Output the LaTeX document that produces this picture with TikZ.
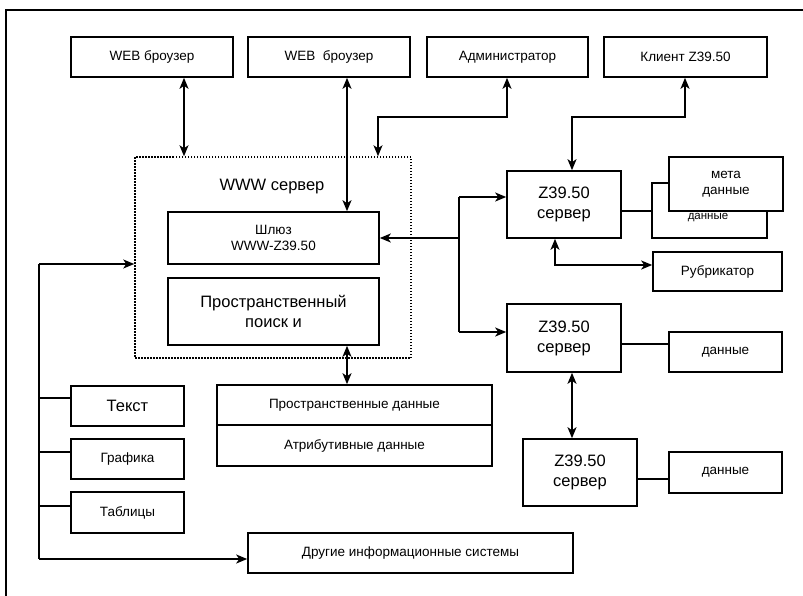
\documentclass[tikz,border=0pt]{standalone}
\usepackage{fontspec}
\setmainfont{Liberation Sans}
\usetikzlibrary{arrows.meta}
\begin{document}
\begin{tikzpicture}[x=1pt,y=-1pt,
  box/.style={draw,line width=1.6pt,inner sep=0pt,align=center,font=\fontsize{13.5}{16}\selectfont},
  bigbox/.style={box,font=\fontsize{16.5}{20}\selectfont},
  conn/.style={line width=1.6pt},
  tip/.tip={Stealth[length=11pt,width=9pt,inset=3pt]},
  ar/.style={conn,-tip},
  dbl/.style={conn,tip-tip}]
\useasboundingbox (0,0) rectangle (803,595);
% outer frame
\draw[line width=1.6pt] (6,620) -- (6,10) -- (830,10);
% top row
\node[box,minimum width=162,minimum height=40] (web1) at (152,57) {WEB броузер};
\node[box,minimum width=162,minimum height=40] (web2) at (329,57) {WEB\ \ броузер};
\node[box,minimum width=161,minimum height=40] (admin) at (507.5,57) {Администратор};
\node[box,minimum width=163,minimum height=40] (client) at (685.5,57) {Клиент Z39.50};
% WWW server
\node[draw,line width=1.5pt,dash pattern=on 1.5pt off 1.5pt,minimum width=276,minimum height=201,inner sep=0pt] (www) at (273,257.5) {};
\node[font=\fontsize{16.5}{20}\selectfont] (wwwlbl) at (272,187) {WWW сервер};
\node[box,minimum width=211,minimum height=52] (gate) at (273.5,238) {Шлюз\\WWW-Z39.50};
\node[bigbox,minimum width=211,minimum height=67] (search) at (273.5,311.5) {Пространственный\\поиск и};
% data boxes
\node[box,minimum width=275,minimum height=40] (spat) at (354.5,405) {Пространственные данные};
\node[box,minimum width=275,minimum height=41] (attr) at (354.5,445.5) {Атрибутивные данные};
% Z39.50 servers
\node[bigbox,minimum width=114,minimum height=67] (srv1) at (564,204.5) {Z39.50\\сервер};
\node[bigbox,minimum width=114,minimum height=68] (srv2) at (564,338) {Z39.50\\сервер};
\node[bigbox,minimum width=114,minimum height=67] (srv3) at (580,472.5) {Z39.50\\сервер};
% meta data stack
\node[box,minimum width=115,minimum height=55] (metaback) at (709.5,210.5) {};
\node[font=\fontsize{11.5}{14}\selectfont] (metabacklbl) at (708,218) {данные};
\coordinate (ym) at (0,211);
\draw[conn] (srv1.east |- ym) -- (metaback.west |- ym);
\node[box,fill=white,minimum width=114,minimum height=54] (metafront) at (726,184) {мета\\данные};
\node[box,minimum width=129,minimum height=39] (rubr) at (717.5,271.5) {Рубрикатор};
\node[box,minimum width=113,minimum height=40] (data2) at (725.5,352) {данные};
\node[box,minimum width=113,minimum height=41] (data3) at (725.5,472.5) {данные};
% left column
\node[bigbox,minimum width=113,minimum height=40] (text) at (127.5,406) {Текст};
\node[box,minimum width=113,minimum height=40] (graph) at (127.5,459) {Графика};
\node[box,minimum width=113,minimum height=41] (tables) at (127.5,512.5) {Таблицы};
\node[box,minimum width=325,minimum height=40] (other) at (410.5,553) {Другие информационные системы};
% columns
\coordinate (c184) at (184,0);
\coordinate (c347) at (347,0);
\coordinate (c572) at (572,0);
% top connectors
\draw[dbl] (web1.south -| c184) -- (www.north -| c184);
\draw[dbl] (web2.south -| c347) -- (gate.north -| c347);
\coordinate (a1) at (507,117);
\coordinate (a2) at (378,117);
\draw[dbl] (admin.south -| a1) -- (a1) -- (a2) -- (www.north -| a2);
\coordinate (k1) at (685,117);
\coordinate (k2) at (572,117);
\draw[dbl] (client.south -| k1) -- (k1) -- (k2) -- (srv1.north -| k2);
% gateway to servers
\coordinate (jn) at (459,238);
\coordinate (j1) at (459,197);
\coordinate (j2) at (459,332);
\draw[conn] (j1) -- (j2);
\draw[ar] (jn) -- (gate.east);
\draw[ar] (j1) -- (j1 -| srv1.west);
\draw[ar] (j2) -- (j2 -| srv2.west);
% server side connectors
\coordinate (rb) at (555,265);
\draw[dbl] (srv1.south -| rb) -- (rb) -- (rb -| rubr.west);
\coordinate (y2) at (0,344);
\draw[conn] (srv2.east |- y2) -- (data2.west |- y2);
\coordinate (y3) at (0,479);
\draw[conn] (srv3.east |- y3) -- (data3.west |- y3);
\draw[dbl] (srv2.south -| c572) -- (srv3.north -| c572);
\draw[dbl] (search.south -| c347) -- (spat.north -| c347);
% left bus
\coordinate (L1) at (39,264);
\coordinate (L2) at (39,559);
\draw[conn] (L1) -- (L2);
\draw[ar] (L1) -- (L1 -| www.west);
\draw[ar] (L2) -- (L2 -| other.west);
\coordinate (t1) at (39,398);
\coordinate (t2) at (39,452);
\coordinate (t3) at (39,506);
\draw[conn] (t1) -- (t1 -| text.west);
\draw[conn] (t2) -- (t2 -| graph.west);
\draw[conn] (t3) -- (t3 -| tables.west);
\end{tikzpicture}
\end{document}
